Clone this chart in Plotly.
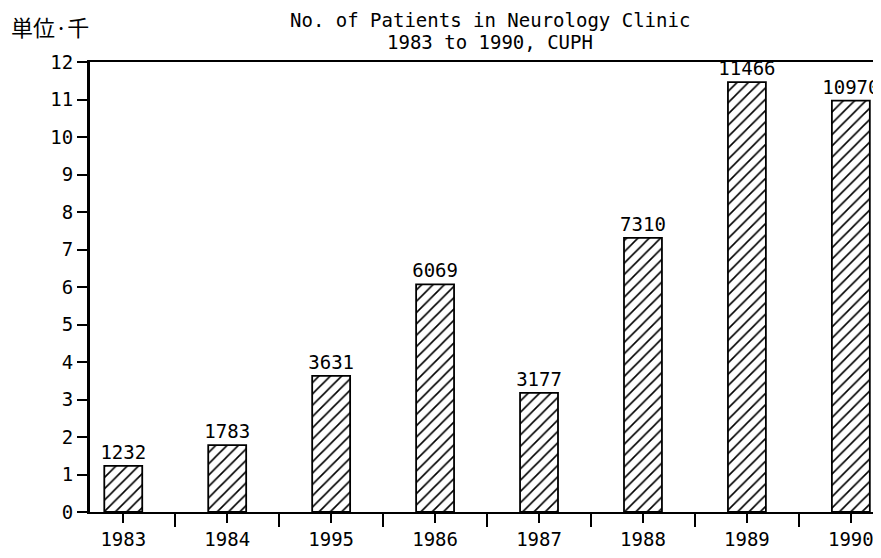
import plotly.graph_objects as go

years = ["1983", "1984", "1995", "1986", "1987", "1988", "1989", "1990"]
patients = [1232, 1783, 3631, 6069, 3177, 7310, 11466, 10970]
y_ticks = list(range(0, 13))

FONT = "DejaVu Sans Mono"
pos = list(range(len(years)))

fig = go.Figure()
fig.add_trace(go.Bar(
    x=pos,
    y=[v / 1000 for v in patients],
    width=0.365,
    text=[str(v) for v in patients],
    textposition="outside",
    constraintext="none",
    cliponaxis=False,
    textfont=dict(family=FONT, size=19, color="black"),
    marker=dict(
        color="white",
        line=dict(color="black", width=1.8),
        pattern=dict(shape="/", fgcolor="black", fgopacity=1, bgcolor="white",
                     size=8, solidity=0.2),
    ),
    showlegend=False,
))

# page body has an 8px margin, so the figure is placed 8px in
fig.update_layout(
    width=873, height=550,
    margin=dict(l=82, r=0, t=54, b=46),
    plot_bgcolor="white", paper_bgcolor="white",
    font=dict(family=FONT, size=19, color="black"),
    xaxis=dict(
        range=[-0.32, 7.29],
        tickmode="array", tickvals=pos, ticktext=years,
        ticks="outside", ticklen=9, tickwidth=1.5, tickcolor="black",
        minor=dict(tick0=0.5, dtick=1, ticks="outside", ticklen=13, tickwidth=1.5, tickcolor="black"),
        showline=True, linecolor="black", linewidth=2, mirror=True,
        showgrid=False, zeroline=False,
        tickfont=dict(family=FONT, size=19),
    ),
    yaxis=dict(
        range=[0, 12],
        tickmode="array", tickvals=y_ticks,
        ticks="outside", ticklen=10, tickwidth=1.5, tickcolor="black",
        showline=True, linecolor="black", linewidth=3,
        showgrid=False, zeroline=False,
        tickfont=dict(family=FONT, size=19),
    ),
    annotations=[
        dict(text="No. of Patients in Neurology Clinic", xref="paper", yref="paper",
             x=0.506, y=1.093, showarrow=False, xanchor="center", yanchor="middle",
             font=dict(family=FONT, size=19)),
        dict(text="1983 to 1990, CUPH", xref="paper", yref="paper",
             x=0.506, y=1.045, showarrow=False, xanchor="center", yanchor="middle",
             font=dict(family=FONT, size=19)),
        dict(text="単位·千", xref="paper", yref="paper",
             x=-0.051, y=1.08, showarrow=False, xanchor="center", yanchor="middle",
             font=dict(family="Noto Sans CJK JP", size=22)),
    ],
)

fig.write_html("out.html")
